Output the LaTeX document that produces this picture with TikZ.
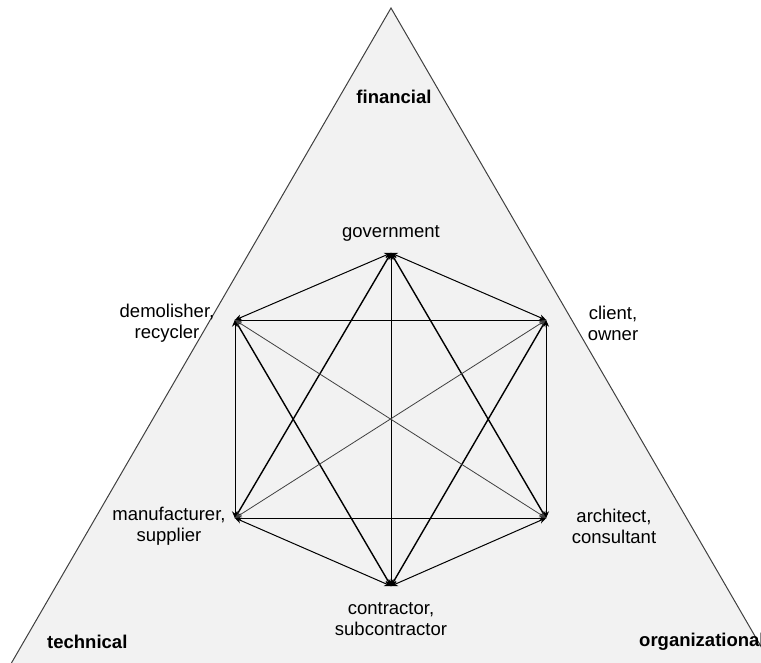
\documentclass[tikz,border=0pt]{standalone}
\usepackage{fontspec}
\setmainfont{Liberation Sans}
\usetikzlibrary{arrows.meta}
\tikzset{
  lbl/.style={inner sep=0pt, align=center, font=\fontsize{18.5}{21}\selectfont},
  corner/.style={inner sep=0pt, font=\fontsize{18.5}{21}\selectfont\bfseries},
  vtx/.style={circle, inner sep=0pt, minimum size=0pt},
  link/.style={line width=1pt, {Stealth[length=7pt,width=6pt]}-{Stealth[length=7pt,width=6pt]}, shorten <=-0.5pt, shorten >=-0.5pt},
  thick link/.style={link, line width=1.4pt},
  thin link/.style={link, line width=0.8pt, draw=black!75}
}
\begin{document}
\begin{tikzpicture}[x=1pt,y=-1pt]
\useasboundingbox (0,0) rectangle (761,662);
\clip (0,0) rectangle (761,662);
% big triangle
\coordinate (apex) at (391,8);
\coordinate (bl) at (-10,700);
\coordinate (br) at (792,700);
\path[fill=black!5, draw=black!75, line width=1pt] (apex) -- (bl) -- (br) -- cycle;
% vertices
\node[vtx] (G) at (391,253) {};
\node[vtx] (C) at (546,320) {};
\node[vtx] (A) at (546,518) {};
\node[vtx] (K) at (391,586) {};
\node[vtx] (M) at (235,518) {};
\node[vtx] (D) at (235,320) {};
% edges
\draw[link] (G) -- (C);
\draw[link] (C) -- (A);
\draw[link] (A) -- (K);
\draw[link] (K) -- (M);
\draw[link] (M) -- (D);
\draw[link] (D) -- (G);
\draw[link] (D) -- (C);
\draw[link] (M) -- (A);
\draw[link] (G) -- (K);
\draw[thick link] (G) -- (M);
\draw[thick link] (G) -- (A);
\draw[thick link] (K) -- (D);
\draw[thick link] (K) -- (C);
\draw[thin link] (D) -- (A);
\draw[thin link] (C) -- (M);
% labels
\node[corner] (fin) at (394,97) {financial};
\node[corner, anchor=west] (tech) at (47,642) {technical};
\node[corner, anchor=west] (org) at (639,642) {organizational};
\node[lbl] (gov) at (391,233) {government};
\node[lbl] (dem) at (167,323) {demolisher,\\recycler};
\node[lbl] (cli) at (613,323) {client,\\owner};
\node[lbl] (man) at (169,526) {manufacturer,\\supplier};
\node[lbl] (arc) at (614,526) {architect,\\consultant};
\node[lbl] (con) at (391,619) {contractor,\\subcontractor};
\end{tikzpicture}
\end{document}
